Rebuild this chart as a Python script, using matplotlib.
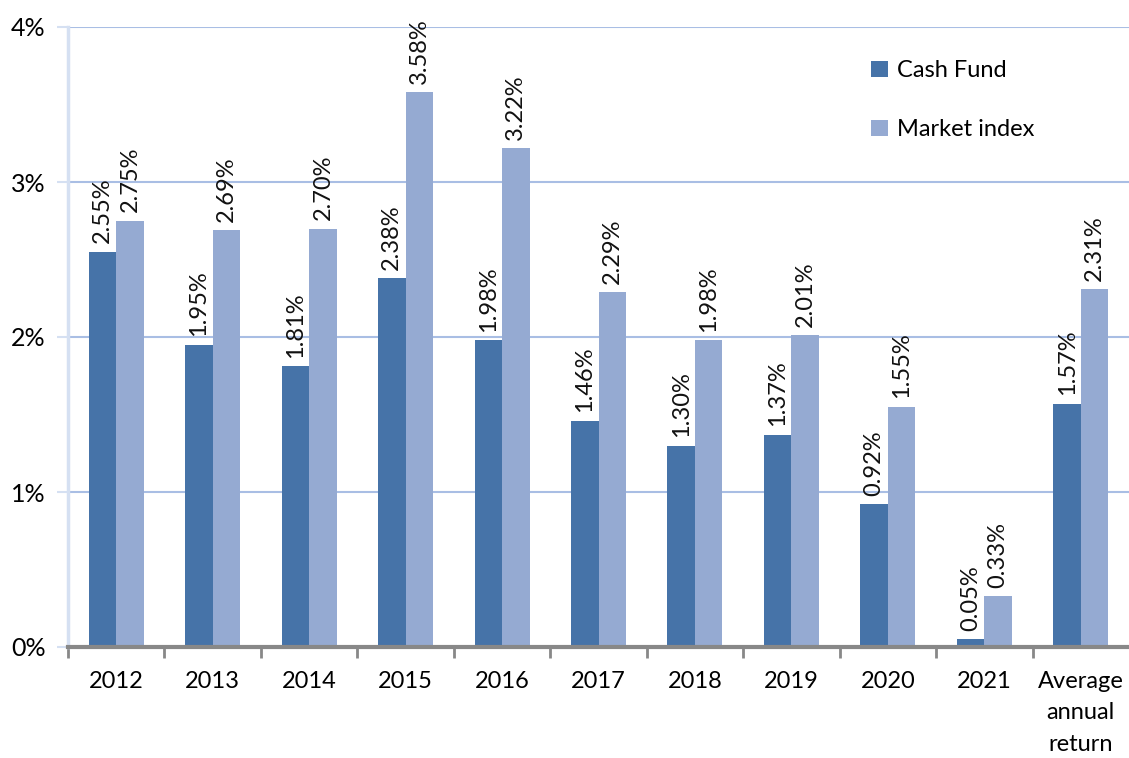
import matplotlib
matplotlib.use("Agg")
import matplotlib.pyplot as plt
import numpy as np

categories = ["2012", "2013", "2014", "2015", "2016", "2017", "2018", "2019", "2020", "2021", "Average\nannual\nreturn"]
cash_fund = [2.55, 1.95, 1.81, 2.38, 1.98, 1.46, 1.30, 1.37, 0.92, 0.05, 1.57]
market_index = [2.75, 2.69, 2.70, 3.58, 3.22, 2.29, 1.98, 2.01, 1.55, 0.33, 2.31]
y_ticks = [0, 1, 2, 3, 4]
y_tick_labels = ["0%", "1%", "2%", "3%", "4%"]

plt.rcParams['font.family'] = ['Lato', 'DejaVu Sans']

fig = plt.figure(figsize=(11.29, 7.58), dpi=100)
ax = fig.add_axes([68/1129, 1-647/758, 1-68/1129, (647-27)/758])

x = np.arange(len(categories))
w = 0.285
c_cash = "#4673A8"
c_mkt = "#95AAD2"
b1 = ax.bar(x - w/2, cash_fund, w, color=c_cash, label="Cash Fund", zorder=3)
b2 = ax.bar(x + w/2, market_index, w, color=c_mkt, label="Market index", zorder=3)

for bars, vals in ((b1, cash_fund), (b2, market_index)):
    for rect, v in zip(bars, vals):
        ax.annotate(f"{v:.2f}%", (rect.get_x() + rect.get_width()/2, rect.get_height()),
                    xytext=(0, 6), textcoords="offset points", rotation=90,
                    ha="center", va="bottom", fontsize=17, color="#111111")

ax.set_xlim(-0.5, len(categories) - 0.5)
ax.set_ylim(0, 4)
ax.set_yticks(y_ticks)
ax.set_yticklabels(y_tick_labels, fontsize=18)
ax.yaxis.grid(True, color="#A9BEE4", linewidth=1.5, zorder=0)
ax.set_axisbelow(True)

ax.set_xticks(x)
ax.set_xticklabels(categories, fontsize=17, linespacing=1.62, va="top")
ax.tick_params(axis="x", which="major", length=0, pad=17)
ax.set_xticks(np.arange(-0.5, len(categories) - 0.5, 1.0), minor=True)
ax.tick_params(axis="x", which="minor", length=8, width=2, color="#888888", direction="out")
ax.tick_params(axis="y", length=8, width=1.5, color="#D5E0F2", pad=8)

for s in ("top", "right"):
    ax.spines[s].set_visible(False)
ax.spines["left"].set_color("#D5E0F2")
ax.spines["left"].set_linewidth(2.5)
ax.spines["bottom"].set_color("#888888")
ax.spines["bottom"].set_linewidth(3)
ax.spines["bottom"].set_zorder(4)

leg = ax.legend(loc="upper left", bbox_to_anchor=(782/1061, 1 - 12/620), frameon=False,
                fontsize=17, labelspacing=1.6, handlelength=0.7, handleheight=0.7,
                handletextpad=0.4)

fig.savefig("out.png", dpi=100)
